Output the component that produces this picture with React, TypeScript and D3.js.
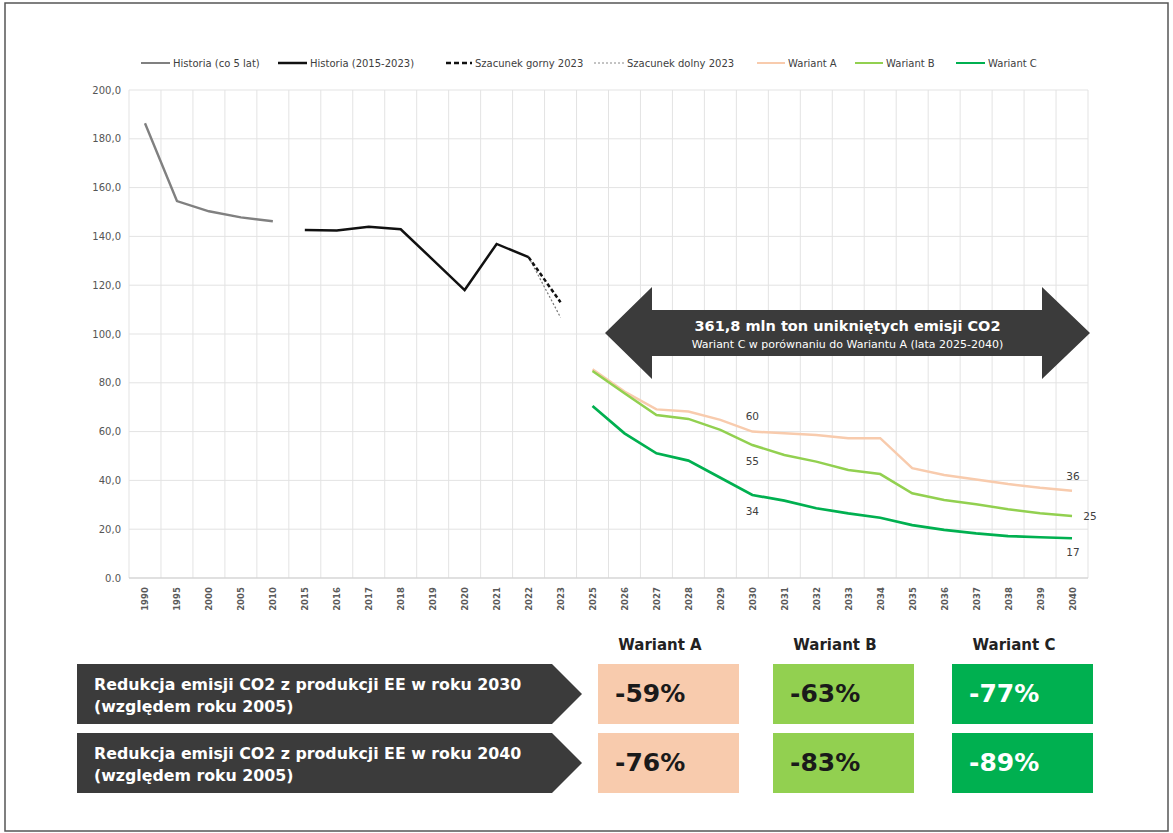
import React from "react";
import * as d3 from "d3";

const years = [
  "1990", "1995", "2000", "2005", "2010",
  "2015", "2016", "2017", "2018", "2019", "2020", "2021", "2022", "2023",
  "2025", "2026", "2027", "2028", "2029", "2030", "2031", "2032", "2033", "2034",
  "2035", "2036", "2037", "2038", "2039", "2040",
];
const histYears = ["1990", "1995", "2000", "2005", "2010"];
const histCo5 = [186.4, 154.5, 150.3, 147.8, 146.2];
const recentYears = ["2015", "2016", "2017", "2018", "2019", "2020", "2021", "2022"];
const hist1523 = [142.6, 142.4, 144.0, 142.9, 130.5, 118.0, 136.9, 131.5];
const estYears = ["2022", "2023"];
const szacGorny = [131.5, 113.0];
const szacDolny = [131.5, 106.8];
const variantYears = [
  "2025", "2026", "2027", "2028", "2029", "2030", "2031", "2032", "2033", "2034",
  "2035", "2036", "2037", "2038", "2039", "2040",
];
const wariantA = [85.5, 76.4, 69.1, 68.2, 64.8, 60.0, 59.3, 58.6, 57.3, 57.3, 45.0, 42.2, 40.4, 38.5, 37.0, 35.8];
const wariantB = [84.8, 75.7, 66.8, 65.2, 60.7, 54.5, 50.4, 47.7, 44.3, 42.6, 34.7, 32.0, 30.2, 28.2, 26.5, 25.4];
const wariantC = [70.5, 59.3, 51.1, 48.1, 41.1, 34.0, 31.7, 28.6, 26.5, 24.7, 21.7, 19.7, 18.3, 17.2, 16.7, 16.3];
const yTicks = [0, 20, 40, 60, 80, 100, 120, 140, 160, 180, 200];
const yTickLabels = ["0.0", "20,0", "40,0", "60,0", "80,0", "100,0", "120,0", "140,0", "160,0", "180,0", "200,0"];

const tableHeaders = ["Wariant A", "Wariant B", "Wariant C"];
const rowLabels = [
  ["Redukcja emisji CO2 z produkcji EE w roku 2030", "(względem roku 2005)"],
  ["Redukcja emisji CO2 z produkcji EE w roku 2040", "(względem roku 2005)"],
];
const reduction2030 = ["-59%", "-63%", "-77%"];
const reduction2040 = ["-76%", "-83%", "-89%"];

const arrowTitle = "361,8 mln ton unikniętych emisji CO2";
const arrowSub = "Wariant C w porównaniu do Wariantu A (lata 2025-2040)";

const colA = "#f8cbad";
const colB = "#92d050";
const colC = "#00b050";
const dark = "#3b3b3b";

export default function App() {
  const W = 1173, H = 833;
  const x = d3.scaleBand<string>().domain(years).range([129, 1088]).padding(0);
  const bw = x.bandwidth();
  const cx = (y: string) => (x(y) as number) + bw / 2;
  const y = d3.scaleLinear().domain([0, 200]).range([578, 90]);

  const line = (xs: string[], vs: number[]) =>
    d3.line<number>().x((_, i) => cx(xs[i])).y((v) => y(v))(vs) as string;

  const gridX = d3.range(years.length + 1).map((i) => 129 + i * bw);

  const legend = [
    { x: 141, w: 29, text: "Historia (co 5 lat)", stroke: "#808080", dash: "", sw: 2 },
    { x: 278, w: 29, text: "Historia (2015-2023)", stroke: "#111", dash: "", sw: 2.5 },
    { x: 446, w: 26, text: "Szacunek gorny 2023", stroke: "#111", dash: "5,3", sw: 2.5 },
    { x: 594, w: 30, text: "Szacunek dolny 2023", stroke: "#888", dash: "2,2", sw: 1 },
    { x: 757, w: 28, text: "Wariant A", stroke: colA, dash: "", sw: 2 },
    { x: 855, w: 28, text: "Wariant B", stroke: colB, dash: "", sw: 2 },
    { x: 956, w: 29, text: "Wariant C", stroke: colC, dash: "", sw: 2 },
  ];

  // arrow geometry
  const aL = 605, aR = 1090, aHL = 652, aHR = 1042, aCy = 333, bodyH = 23, headH = 46;
  const arrowPts = [
    [aL, aCy], [aHL, aCy - headH], [aHL, aCy - bodyH], [aHR, aCy - bodyH], [aHR, aCy - headH],
    [aR, aCy], [aHR, aCy + headH], [aHR, aCy + bodyH], [aHL, aCy + bodyH], [aHL, aCy + headH],
  ].map((p) => p.join(",")).join(" ");

  const tableFont = "'DejaVu Sans', Verdana, sans-serif";
  const boxX = [598, 773, 952];
  const boxW = 141;
  const boxColors = [colA, colB, colC];
  const boxText = ["#1a1a1a", "#1a1a1a", "#ffffff"];
  const rowY = [664, 733];
  const rowH = 60;
  const rows = [reduction2030, reduction2040];

  const iA = variantYears.indexOf("2030");
  const iEnd = variantYears.length - 1;

  return (
    <svg width={W} height={H} style={{ position: "absolute", left: 0, top: 0, background: "#fff" }} fontFamily="'DejaVu Sans', sans-serif">
      <rect x={0} y={0} width={W} height={H} fill="#fff" />
      <rect x={5} y={3} width={1163} height={828} fill="none" stroke="#555" strokeWidth={1.5} />

      {/* grid */}
      {yTicks.map((t) => (
        <line key={"h" + t} x1={129} x2={1088} y1={y(t)} y2={y(t)} stroke="#e3e3e3" strokeWidth={1} />
      ))}
      {gridX.map((gx, i) => (
        <line key={"v" + i} x1={gx} x2={gx} y1={y(200)} y2={y(0)} stroke="#e3e3e3" strokeWidth={1} />
      ))}
      <line x1={129} x2={1088} y1={y(0)} y2={y(0)} stroke="#cfcfcf" strokeWidth={1} />

      {/* y labels */}
      {yTicks.map((t, i) => (
        <text key={"yl" + t} x={121} y={y(t) + 3.5} textAnchor="end" fontSize={10} fill="#555">
          {yTickLabels[i]}
        </text>
      ))}
      {/* x labels */}
      {years.map((yr) => (
        <text key={"xl" + yr} transform={`translate(${cx(yr) + 3.5},${599}) rotate(-90)`} textAnchor="middle"
          fontSize={8.5} fontWeight={700} fill="#595959">
          {yr}
        </text>
      ))}

      {/* legend */}
      {legend.map((l) => (
        <g key={l.text}>
          <line x1={l.x} x2={l.x + l.w} y1={63} y2={63} stroke={l.stroke} strokeWidth={l.sw} strokeDasharray={l.dash} />
          <text x={l.x + l.w + 3} y={66.5} fontSize={10} fill="#404040">{l.text}</text>
        </g>
      ))}

      {/* lines */}
      <path d={line(histYears, histCo5)} fill="none" stroke="#808080" strokeWidth={2.4} />
      <path d={line(recentYears, hist1523)} fill="none" stroke="#111" strokeWidth={2.5} />
      <path d={line(estYears, szacDolny)} fill="none" stroke="#777" strokeWidth={1.2} strokeDasharray="2,2" />
      <path d={line(estYears, szacGorny)} fill="none" stroke="#111" strokeWidth={2.5} strokeDasharray="4,2.5" />
      <path d={line(variantYears, wariantA)} fill="none" stroke={colA} strokeWidth={2.5} />
      <path d={line(variantYears, wariantB)} fill="none" stroke={colB} strokeWidth={2.5} />
      <path d={line(variantYears, wariantC)} fill="none" stroke={colC} strokeWidth={2.7} />

      {/* data labels */}
      <g fontSize={10.5} fill="#404040" textAnchor="middle">
        <text x={cx("2030")} y={y(wariantA[iA]) - 12}>{Math.round(wariantA[iA])}</text>
        <text x={cx("2030")} y={y(wariantB[iA]) + 20}>{Math.round(wariantB[iA])}</text>
        <text x={cx("2030")} y={y(wariantC[iA]) + 20}>{Math.round(wariantC[iA])}</text>
        <text x={cx("2040") + 1} y={y(wariantA[iEnd]) - 11}>{Math.round(wariantA[iEnd])}</text>
        <text x={cx("2040") + 18} y={y(wariantB[iEnd]) + 4}>{Math.round(wariantB[iEnd])}</text>
        <text x={cx("2040") + 1} y={y(wariantC[iEnd]) + 18}>{Math.round(wariantC[iEnd] + 0.7)}</text>
      </g>

      {/* arrow */}
      <polygon points={arrowPts} fill={dark} />
      <text x={(aL + aR) / 2} y={331} textAnchor="middle" fontFamily={tableFont} fontWeight={700} fontSize={14.5} fill="#fff">
        {arrowTitle}
      </text>
      <text x={(aL + aR) / 2} y={347.5} textAnchor="middle" fontSize={11} fill="#fff">
        {arrowSub}
      </text>

      {/* table */}
      {tableHeaders.map((h, i) => (
        <text key={h} x={boxX[i] + 62} y={650} textAnchor="middle" fontFamily={tableFont} fontWeight={700} fontSize={15} fill="#222">
          {h}
        </text>
      ))}
      {rowLabels.map((lbl, r) => {
        const top = rowY[r];
        const pts = [[77, top], [552, top], [582, top + rowH / 2], [552, top + rowH], [77, top + rowH]]
          .map((p) => p.join(",")).join(" ");
        return (
          <g key={"row" + r}>
            <polygon points={pts} fill={dark} />
            <text x={94} y={top + 26} fontFamily={tableFont} fontWeight={700} fontSize={15.8} fill="#fff">{lbl[0]}</text>
            <text x={94} y={top + 47.5} fontFamily={tableFont} fontWeight={700} fontSize={15.8} fill="#fff">{lbl[1]}</text>
          </g>
        );
      })}
      {rows.map((vals, r) =>
        vals.map((v, i) => (
          <g key={"c" + r + i}>
            <rect x={boxX[i]} y={rowY[r]} width={boxW} height={rowH} fill={boxColors[i]} />
            <text x={boxX[i] + 17} y={rowY[r] + 38} fontFamily={tableFont} fontWeight={700} fontSize={25} fill={boxText[i]}>
              {v}
            </text>
          </g>
        ))
      )}
    </svg>
  );
}
